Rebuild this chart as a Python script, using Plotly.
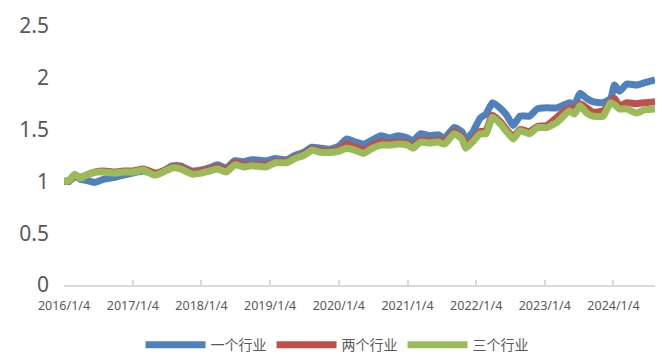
import plotly.graph_objects as go

dates = [
    "2016-01-04", "2016-02-01", "2016-03-01", "2016-04-01", "2016-05-01", "2016-06-15",
    "2016-08-01", "2016-10-01", "2016-11-15", "2017-01-04", "2017-03-01", "2017-05-01",
    "2017-06-15", "2017-08-01", "2017-09-15", "2017-11-15", "2018-01-04", "2018-02-15",
    "2018-04-01", "2018-05-15", "2018-07-01", "2018-08-15", "2018-10-01", "2018-12-15",
    "2019-02-01", "2019-04-01", "2019-05-15", "2019-07-01", "2019-08-15", "2019-10-01",
    "2019-11-15", "2020-01-04", "2020-02-15", "2020-04-01", "2020-05-15", "2020-07-01",
    "2020-08-15", "2020-10-01", "2020-11-15", "2021-01-04", "2021-02-01", "2021-03-15",
    "2021-05-01", "2021-06-15", "2021-07-20", "2021-09-10", "2021-10-20", "2021-11-10",
    "2021-12-15", "2022-01-25", "2022-02-25", "2022-04-01", "2022-05-10", "2022-06-15",
    "2022-07-20", "2022-08-25", "2022-10-15", "2022-11-25", "2023-01-15", "2023-03-10",
    "2023-05-15", "2023-06-10", "2023-07-10", "2023-08-15", "2023-09-15", "2023-11-10",
    "2023-12-20", "2024-01-10", "2024-02-05", "2024-03-15", "2024-05-05", "2024-06-15",
    "2024-08-12",
]

one_industry = [
    1.00, 1.00, 1.05, 1.02, 1.01, 0.99,
    1.02, 1.04, 1.06, 1.08, 1.10, 1.07,
    1.10, 1.15, 1.15, 1.10, 1.11, 1.13,
    1.16, 1.13, 1.20, 1.19, 1.21, 1.20,
    1.22, 1.21, 1.25, 1.28, 1.33, 1.32,
    1.31, 1.34, 1.41, 1.38, 1.36, 1.40,
    1.44, 1.42, 1.44, 1.42, 1.39, 1.46,
    1.44, 1.45, 1.42, 1.52, 1.48, 1.41,
    1.47, 1.61, 1.65, 1.76, 1.71, 1.64,
    1.54, 1.63, 1.63, 1.70, 1.71, 1.71,
    1.76, 1.74, 1.85, 1.80, 1.77, 1.76,
    1.80, 1.93, 1.87, 1.94, 1.93, 1.95,
    1.98,
]

two_industries = [
    1.00, 1.01, 1.06, 1.04, 1.06, 1.09,
    1.10, 1.09, 1.10, 1.10, 1.12, 1.08,
    1.10, 1.14, 1.14, 1.09, 1.10, 1.12,
    1.14, 1.11, 1.18, 1.16, 1.16, 1.16,
    1.19, 1.19, 1.23, 1.26, 1.31, 1.30,
    1.29, 1.31, 1.36, 1.33, 1.30, 1.35,
    1.38, 1.37, 1.38, 1.37, 1.34, 1.40,
    1.39, 1.40, 1.38, 1.48, 1.43, 1.35,
    1.40, 1.48, 1.49, 1.64, 1.58, 1.50,
    1.43, 1.50, 1.48, 1.53, 1.54, 1.62,
    1.71, 1.69, 1.75, 1.71, 1.67, 1.68,
    1.77, 1.80, 1.73, 1.76, 1.75, 1.76,
    1.77,
]

three_industries = [
    1.00, 1.01, 1.07, 1.03, 1.06, 1.09,
    1.09, 1.08, 1.09, 1.09, 1.11, 1.06,
    1.09, 1.13, 1.12, 1.07, 1.08, 1.10,
    1.12, 1.09, 1.16, 1.14, 1.15, 1.14,
    1.18, 1.18, 1.22, 1.25, 1.30, 1.28,
    1.28, 1.29, 1.32, 1.30, 1.27, 1.32,
    1.35, 1.35, 1.36, 1.35, 1.32, 1.38,
    1.37, 1.38, 1.36, 1.46, 1.41, 1.32,
    1.38, 1.46, 1.46, 1.62, 1.56, 1.48,
    1.41, 1.49, 1.46, 1.52, 1.52, 1.57,
    1.68, 1.65, 1.73, 1.66, 1.63, 1.63,
    1.76, 1.74, 1.70, 1.70, 1.66, 1.69,
    1.70,
]

series_names = ["一个行业", "两个行业", "三个行业"]
series_colors = ["#4F81BD", "#C0504D", "#9BBB59"]

tick_vals = ["2016-01-04", "2017-01-04", "2018-01-04", "2019-01-04", "2020-01-04",
             "2021-01-04", "2022-01-04", "2023-01-04", "2024-01-04"]
tick_text = ["2016/1/4", "2017/1/4", "2018/1/4", "2019/1/4", "2020/1/4",
             "2021/1/4", "2022/1/4", "2023/1/4", "2024/1/4"]
y_ticks = [0, 0.5, 1, 1.5, 2, 2.5]
y_text = ["0", "0.5", "1", "1.5", "2", "2.5"]

fig = go.Figure()
for name, vals, col in zip(series_names, [one_industry, two_industries, three_industries], series_colors):
    fig.add_trace(go.Scatter(
        x=dates, y=vals, name=name, mode="lines",
        line=dict(color=col, width=7, shape="spline", smoothing=0.5),
    ))

fig.update_layout(
    width=663, height=363,
    margin=dict(l=64, r=8, t=26, b=78, autoexpand=False),
    paper_bgcolor="white", plot_bgcolor="white",
    font=dict(family="Noto Sans, Noto Sans CJK SC", color="#595959"),
    showlegend=True,
    legend=dict(
        orientation="h", x=0.462, xanchor="center", y=-0.232, yanchor="middle",
        font=dict(size=14, color="#595959", family="Noto Sans CJK SC"),
        itemwidth=60, traceorder="normal",
        bgcolor="rgba(0,0,0,0)",
    ),
    xaxis=dict(
        type="date",
        range=["2016-01-04", "2024-08-12"],
        tickvals=tick_vals, ticktext=tick_text,
        tickfont=dict(size=12.5, color="#595959"),
        showgrid=False, zeroline=False,
        showline=True, linecolor="#D9D9D9", linewidth=1.5,
        ticks="inside", ticklen=5, tickcolor="#D9D9D9", tickwidth=1.5,
        ticklabelstandoff=8,
        fixedrange=True,
    ),
    yaxis=dict(
        range=[0, 2.5],
        tickvals=y_ticks, ticktext=y_text,
        tickfont=dict(size=21, color="#595959"),
        showgrid=False, zeroline=False, showline=False,
        ticks="", ticklabelstandoff=14,
        fixedrange=True,
    ),
)

fig.write_html("out.html")
